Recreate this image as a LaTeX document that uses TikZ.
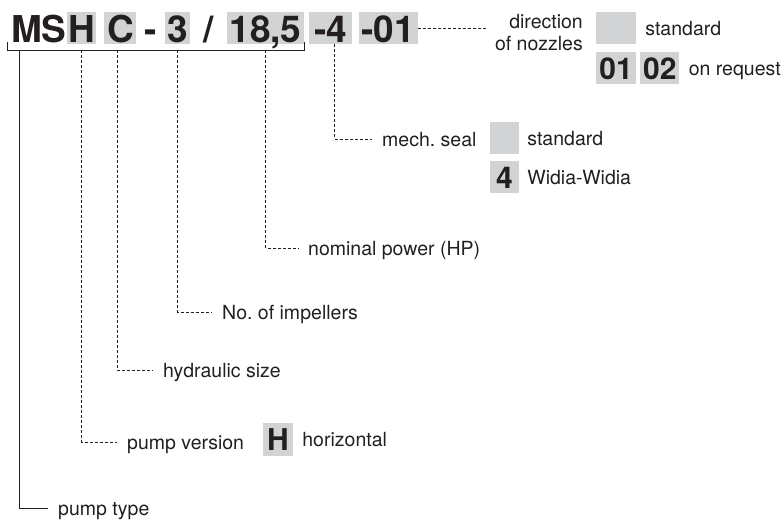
\documentclass[tikz,border=0pt]{standalone}
\usepackage{fontspec}
\setmainfont{TeX Gyre Heros}
\usepackage{xcolor}
\usetikzlibrary{positioning}
\definecolor{codegray}{HTML}{D1D3D4}
\definecolor{ink}{HTML}{231F20}

\begin{document}
\begin{tikzpicture}[
        x=1pt, y=-1pt,
        every node/.style={text=ink},
        lbl/.style={font=\fontsize{19.5}{22}\selectfont, inner sep=0pt, text height=14pt, text depth=0pt},
        tag/.style={lbl, anchor=west, inner xsep=10pt},
        code/.style={font=\fontsize{37}{40}\selectfont\bfseries, inner sep=0pt, text height=30pt, text depth=2pt},
        codebox/.style={code, fill=codegray},
        valbox/.style={fill=codegray, font=\fontsize{30}{32}\selectfont\bfseries, inner sep=0pt, minimum height=32pt, minimum width=29pt},
        link/.style={draw=ink, line width=0.9pt},
        dashlink/.style={link, dash pattern=on 3pt off 2pt}
    ]

    \useasboundingbox (0,0) rectangle (782,528);

    \node[codebox, minimum width=29pt] (h) at (81.5,28) {H};
    \node[code, left=0pt of h] (ms) {MS};
    \node[codebox, minimum width=32pt, right=8pt of h] (c) {C};
    \node[code, minimum width=28pt, right=0pt of c] (dash) {-};
    \node[codebox, minimum width=25pt, right=0pt of dash] (three) {3};
    \node[code, minimum width=36pt, right=0pt of three] (slash) {/};
    \node[codebox, minimum width=77pt, right=0pt of slash] (power) {18,5};
    \node[codebox, minimum width=43pt, right=5pt of power] (seal) {-4};
    \node[codebox, minimum width=59pt, right=6pt of seal] (nozzle) {-01};

    \coordinate (bl) at (7,50);
    \coordinate (br) at (304,50);
    \coordinate (tp) at (19,50);
    \coordinate (cs) at ([xshift=-3pt]c.south);
    \coordinate (s4) at ([xshift=4pt]seal.south);
    \draw[link] (bl) ++(0,-8) -- (bl) -- (br) -- ++(0,-8);

    \node[tag] (typelbl) at (48,508) {pump type};
    \node[tag] (versionlbl) at (117,442) {pump version};
    \node[tag] (hydlbl) at (153,370) {hydraulic size};
    \node[tag] (implbl) at (212,312) {No.\ of impellers};
    \node[tag] (powlbl) at (298,248) {nominal power (HP)};
    \node[tag] (seallbl) at (372,139) {mech.\ seal};

    \draw[link] (tp) |- (typelbl.west);
    \draw[dashlink] (h.south |- bl) |- (versionlbl.west);
    \draw[dashlink] (cs |- bl) |- (hydlbl.west);
    \draw[dashlink] (three.south |- bl) |- (implbl.west);
    \draw[dashlink] (power.south |- bl) |- (powlbl.west);
    \draw[dashlink] (s4) |- (seallbl.west);

    \node[valbox, minimum width=30pt, minimum height=33pt] (horiz) at (278,439.5) {H};
    \node[lbl, right=9pt of horiz] (horizlbl) {horizontal};

    \node[valbox] (sealstd) at (504.5,138) {};
    \node[lbl, right=8pt of sealstd] (sealstdlbl) {standard};
    \node[valbox, below=7pt of sealstd] (sealww) {4};
    \node[lbl, right=8pt of sealww] (sealwwlbl) {Widia-Widia};

    \node[font=\fontsize{19.5}{22}\selectfont, align=right, inner sep=0pt, anchor=base east] (dirlbl) at (583,50) {direction\\of nozzles};
    \coordinate (dirend) at ([xshift=-7pt]dirlbl.west);
    \draw[dashlink] (nozzle.east) -- (nozzle.east -| dirend);

    \node[valbox, minimum width=40pt] (nozstd) at (616,28) {};
    \node[lbl, right=9pt of nozstd] (nozstdlbl) {standard};
    \node[valbox, minimum width=40pt, below=8pt of nozstd] (noz01) {01};
    \node[valbox, minimum width=39pt, right=4pt of noz01] (noz02) {02};
    \node[lbl, right=9pt of noz02] (nozreqlbl) {on request};

\end{tikzpicture}
\end{document}
